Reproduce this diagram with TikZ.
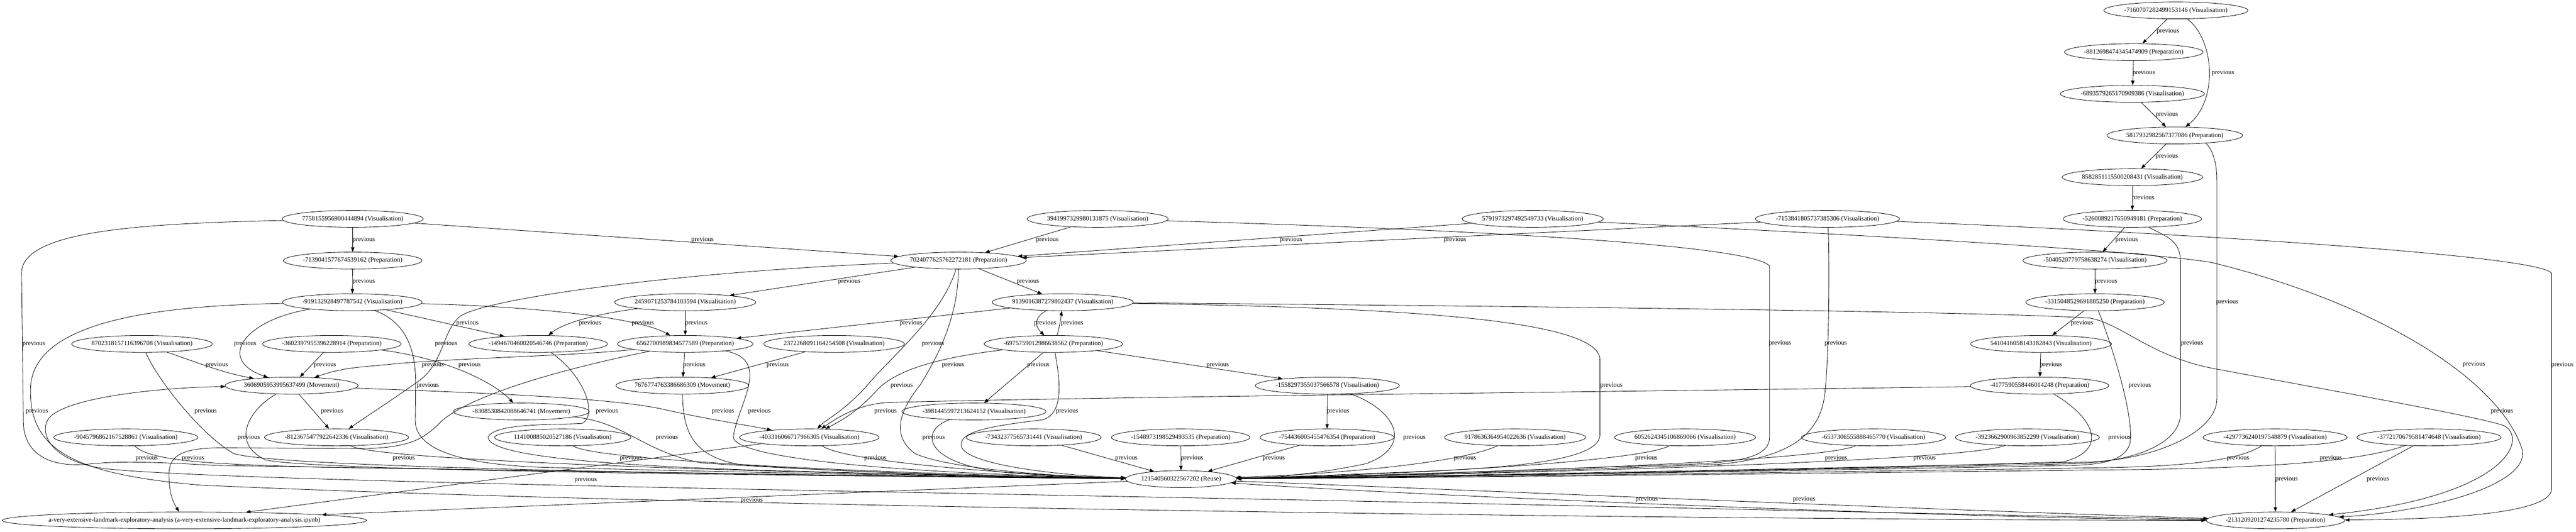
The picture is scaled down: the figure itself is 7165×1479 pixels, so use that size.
\documentclass[tikz,border=0pt]{standalone}
\usepackage{fontspec}
\setmainfont{Liberation Serif}
\usetikzlibrary{shapes.geometric,arrows.meta}
\newcommand{\nodefnt}{\fontsize{13.5pt}{16pt}\selectfont}
\begin{document}
\begin{tikzpicture}[x=0.75pt,y=-0.75pt,
  nd/.style={ellipse,draw,line width=0.9pt,inner xsep=-1.5pt,inner ysep=0pt,minimum height=35.25pt,font=\nodefnt},
  e/.style={draw,line width=0.9pt,-{Triangle[length=9.5pt,width=7pt]}},
  lb/.style={font=\nodefnt,inner sep=0pt}]
\useasboundingbox (0,0) rectangle (7165,1479);
% ---------------- nodes ----------------
\node[nd] (N1) at (6052,29) {-7160707282499153146 (Visualisation)};
\node[nd] (N2) at (5935,145) {-8812698474345474909 (Preparation)};
\node[nd] (N3) at (5931,261) {-6893579265170909386 (Visualisation)};
\node[nd] (N4) at (6049,377) {5817932982567377086 (Preparation)};
\node[nd] (N5) at (5931,493) {8582851115500208431 (Visualisation)};
\node[nd] (N6) at (5931,609) {-5260089217650949181 (Preparation)};
\node[nd] (N7) at (5083,609) {-7153841805737385306 (Visualisation)};
\node[nd] (N8) at (4263,609) {5791973297492549733 (Visualisation)};
\node[nd] (N9) at (3053,609) {3941997329980131875 (Visualisation)};
\node[nd] (N10) at (981,609) {7758155956900444894 (Visualisation)};
\node[nd] (N11) at (5827,725) {-5040520779758638274 (Visualisation)};
\node[nd] (N12) at (2666,725) {7024077625762272181 (Preparation)};
\node[nd] (N13) at (981,725) {-7139041577674539162 (Preparation)};
\node[nd] (N14) at (5827,841) {-3315048529691885250 (Preparation)};
\node[nd] (N15) at (2956,841) {9139016387279802437 (Visualisation)};
\node[nd] (N16) at (1906,841) {2459071253784103594 (Visualisation)};
\node[nd] (N17) at (980,841) {-919132928497787542 (Visualisation)};
\node[nd] (N18) at (5677,957) {5410416058143182843 (Visualisation)};
\node[nd] (N19) at (2930,957) {-6975759012986638562 (Preparation)};
\node[nd] (N20) at (2320,957) {2372268091164254508 (Visualisation)};
\node[nd] (N21) at (1906,957) {6562700989834577589 (Preparation)};
\node[nd] (N22) at (1497,957) {-1494670460020546746 (Preparation)};
\node[nd] (N23) at (923,957) {-3602397955396228914 (Preparation)};
\node[nd] (N24) at (395,957) {8702318157116396708 (Visualisation)};
\node[nd] (N25) at (5673,1073) {-4177590558446014248 (Preparation)};
\node[nd] (N26) at (3692,1073) {-1558297355037566578 (Visualisation)};
\node[nd] (N27) at (1898,1073) {7676774763386686309 (Movement)};
\node[nd] (N28) at (811,1073) {3606905953995637499 (Movement)};
\node[nd] (N29) at (2709,1145) {-3981445597213624152 (Visualisation)};
\node[nd] (N30) at (1450,1145) {-8308530842088646741 (Movement)};
\node[nd] (N31) at (350,1217) {-9045796862167528861 (Visualisation)};
\node[nd] (N32) at (936,1217) {-8123675477922642336 (Visualisation)};
\node[nd] (N33) at (1565,1217) {114100885020527186 (Visualisation)};
\node[nd] (N34) at (2251,1217) {-403316066717966305 (Visualisation)};
\node[nd] (N35) at (2875,1217) {-73432377565731441 (Visualisation)};
\node[nd] (N36) at (3284,1217) {-1548973198529493535 (Preparation)};
\node[nd] (N37) at (3691,1217) {-754436005455476354 (Preparation)};
\node[nd] (N38) at (4214,1217) {9178636364954022636 (Visualisation)};
\node[nd] (N39) at (4687,1217) {6052624345106869066 (Visualisation)};
\node[nd] (N40) at (5211,1217) {-6537306555888465770 (Visualisation)};
\node[nd] (N41) at (5639,1217) {-3923662900963852299 (Visualisation)};
\node[nd] (N42) at (6328,1217) {-4297736240197548879 (Visualisation)};
\node[nd] (N43) at (6756,1217) {-3772170679581474648 (Visualisation)};
\node[nd] (N44) at (3285,1333) {121540560322567202 (Reuse)};
\node[nd,inner xsep=-14.7pt] (N45) at (513,1448) {a-very-extensive-landmark-exploratory-analysis (a-very-extensive-landmark-exploratory-analysis.ipynb)};
\node[nd] (N46) at (6329,1448) {-2131209201274235780 (Preparation)};
% ---------------- edges: right chain ----------------
\draw[e] (N1) -- (N2);
\draw[e] (N2) -- (N3);
\draw[e] (N3) -- (N4);
\draw[e] (N1) .. controls (6160,110) and (6170,280) .. (N4);
\draw[e] (N4) -- (N5);
\draw[e] (N5) -- (N6);
\draw[e] (N6) -- (N11);
\draw[e] (N11) -- (N14);
\draw[e] (N14) -- (N18);
\draw[e] (N18) -- (N25);
% ---------------- edges into root from the right ----------------
\draw[e] (N4) .. controls (6140,400) and (6166,430) .. (6166,500) -- (6166,1110) .. controls (6166,1200) and (6000,1280) .. (5800,1286) .. controls (5000,1305) and (3800,1328) .. (N44);
\draw[e] (N6) .. controls (6030,660) and (6065,670) .. (6065,730) -- (6065,1150) .. controls (6065,1230) and (5950,1282) .. (5780,1290) .. controls (5000,1308) and (3800,1329) .. (N44);
\draw[e] (N14) .. controls (5870,950) and (5935,1150) .. (5925,1230) .. controls (5915,1280) and (5850,1293) .. (5760,1295) .. controls (5000,1310) and (3800,1329) .. (N44);
\draw[e] (N25) .. controls (5820,1160) and (5870,1250) .. (5740,1285) .. controls (5000,1310) and (3800,1329) .. (N44);
\draw[e] (N42) .. controls (6220,1285) and (6050,1300) .. (5800,1302) .. controls (5000,1315) and (3800,1330) .. (N44);
\draw[e] (N43) .. controls (6560,1285) and (6300,1305) .. (5800,1308) .. controls (5000,1318) and (3800,1331) .. (N44);
\draw[e] (N7) .. controls (5089,700) and (5088,1000) .. (5075,1100) .. controls (5060,1220) and (4960,1275) .. (4780,1292) .. controls (4300,1310) and (3800,1327) .. (N44);
\draw[e] (N9) .. controls (3800,630) and (4860,670) .. (4922,740) -- (4922,1215) .. controls (4922,1270) and (4850,1285) .. (4700,1292) .. controls (4200,1308) and (3800,1326) .. (N44);
\draw[e] (N39) .. controls (4560,1285) and (3900,1322) .. (N44);
\draw[e] (N40) .. controls (5060,1288) and (3900,1323) .. (N44);
\draw[e] (N41) .. controls (5440,1290) and (3900,1324) .. (N44);
\draw[e] (N38) .. controls (4060,1290) and (3700,1320) .. (N44);
\draw[e] (N15) .. controls (3800,855) and (4449,880) .. (4450,1000) -- (4450,1210) .. controls (4450,1275) and (4250,1300) .. (3950,1312) .. controls (3700,1322) and (3550,1328) .. (N44);
\draw[e] (N26) .. controls (3880,1140) and (3935,1240) .. (3800,1290) .. controls (3650,1322) and (3520,1330) .. (N44);
\draw[e] (N26) -- (N37);
\draw[e] (N37) -- (N44);
\draw[e] (N36) -- (N44);
\draw[e] (N35) -- (N44);
% ---------------- edges into -2131 ----------------
\draw[e] (N42) -- (N46);
\draw[e] (N43) -- (N46);
\draw[e] (N7) .. controls (5700,632) and (7050,700) .. (7097,760) -- (7097,1360) .. controls (7097,1430) and (6800,1445) .. (N46);
\draw[e] (N8) .. controls (4900,640) and (5900,690) .. (6150,730) .. controls (6600,840) and (6950,1050) .. (7015,1250) .. controls (7040,1350) and (6750,1425) .. (N46);
\draw[e] (N15) .. controls (4000,850) and (5500,865) .. (5812,885) .. controls (5900,900) and (5980,990) .. (6150,1024) .. controls (6500,1090) and (6900,1160) .. (6966,1185) .. controls (7030,1220) and (6980,1380) .. (N46);
\draw[e] (N44) .. controls (3800,1352) and (5400,1420) .. (N46);
\draw[e] (N46) .. controls (5400,1442) and (3800,1372) .. (N44);
\draw[e] (N17) .. controls (450,850) and (90,890) .. (85,1080) .. controls (80,1250) and (200,1320) .. (560,1350) .. controls (1500,1392) and (3000,1420) .. (4500,1437) .. controls (5500,1447) and (5950,1448) .. (N46);
\draw[e] (N46) .. controls (5500,1433) and (4500,1408) .. (3200,1383) .. controls (2000,1360) and (600,1335) .. (300,1305) .. controls (150,1288) and (105,1210) .. (135,1165) .. controls (180,1105) and (450,1078) .. (N28);
% ---------------- middle ----------------
\draw[e] (N19) -- (N26);
\draw[e] (N25) .. controls (4500,1090) and (3000,1105) .. (2470,1120) .. controls (2400,1124) and (2345,1150) .. (N34);
\draw[e] (N29) .. controls (2560,1195) and (2560,1290) .. (2800,1315) .. controls (2950,1326) and (3050,1330) .. (N44);
\draw[e] (N19) .. controls (2945,1040) and (2965,1150) .. (2900,1168) .. controls (2760,1185) and (2660,1200) .. (2675,1245) .. controls (2700,1300) and (3000,1326) .. (N44);
\draw[e] (N12) .. controls (2665,880) and (2610,990) .. (2560,1070) .. controls (2505,1140) and (2475,1210) .. (2545,1262) .. controls (2650,1310) and (3000,1328) .. (N44);
\draw[e] (N12) .. controls (2620,880) and (2470,1000) .. (2410,1075) .. controls (2340,1150) and (2300,1165) .. (N34);
\draw[e] (N19) .. controls (2650,990) and (2500,1020) .. (2440,1085) .. controls (2380,1150) and (2340,1170) .. (N34);
\draw[e] (N19) -- (N29);
\draw[e] (N28) .. controls (1300,1092) and (1700,1105) .. (1850,1140) .. controls (1960,1165) and (2060,1180) .. (N34);
\draw[e] (N34) .. controls (2360,1290) and (2900,1325) .. (N44);
\draw[e] (N34) -- (N45);
\draw[e] (N44) -- (N45);
\draw[e] (N21) .. controls (2150,1000) and (2050,1130) .. (2040,1215) .. controls (2035,1275) and (2500,1318) .. (N44);
\draw[e] (N27) .. controls (1900,1200) and (1925,1270) .. (2060,1293) .. controls (2400,1318) and (2900,1329) .. (N44);
\draw[e] (N30) .. controls (1740,1175) and (1785,1255) .. (1950,1288) .. controls (2400,1318) and (2900,1329) .. (N44);
\draw[e] (N33) .. controls (1650,1285) and (2600,1322) .. (N44);
\draw[e] (N22) .. controls (1620,1040) and (1665,1150) .. (1620,1178) .. controls (1560,1183) and (1380,1175) .. (1358,1215) .. controls (1350,1270) and (1700,1295) .. (2100,1308) .. controls (2600,1322) and (3000,1330) .. (N44);
\draw[e] (N32) .. controls (1060,1290) and (2600,1326) .. (N44);
\draw[e] (N17) .. controls (1140,900) and (1158,990) .. (1156,1080) -- (1155,1170) .. controls (1155,1240) and (1250,1290) .. (1500,1300) .. controls (2200,1318) and (2900,1330) .. (N44);
\draw[e] (N28) .. controls (690,1140) and (640,1235) .. (740,1280) .. controls (900,1315) and (2600,1326) .. (N44);
\draw[e] (N24) .. controls (440,1060) and (560,1210) .. (650,1262) .. controls (800,1310) and (2600,1326) .. (N44);
\draw[e] (N31) .. controls (420,1285) and (600,1292) .. (900,1300) .. controls (2000,1318) and (2800,1330) .. (N44);
\draw[e] (N10) .. controls (400,622) and (60,640) .. (60,760) -- (65,1180) .. controls (70,1265) and (140,1300) .. (240,1292) .. controls (330,1282) and (420,1285) .. (600,1295) .. controls (1500,1310) and (2800,1330) .. (N44);
% ---------------- left part ----------------
\draw[e] (N28) -- (N32);
\draw[e] (N12) .. controls (1900,755) and (1350,830) .. (1280,880) .. controls (1230,920) and (1235,1010) .. (1165,1060) .. controls (1080,1120) and (1010,1165) .. (N32);
\draw[e] (N21) .. controls (1500,1040) and (1300,1110) .. (1230,1170) .. controls (1185,1215) and (1150,1248) .. (1000,1248) -- (620,1246) .. controls (510,1246) and (470,1265) .. (470,1320) .. controls (470,1370) and (480,1395) .. (N45);
\draw[e] (N21) .. controls (1600,990) and (1300,995) .. (1100,1012) .. controls (1010,1022) and (960,1020) .. (N28);
\draw[e] (N23) .. controls (1230,995) and (1370,1060) .. (N30);
\draw[e] (N23) -- (N28);
\draw[e] (N24) .. controls (540,1005) and (610,1035) .. (N28);
\draw[e] (N17) .. controls (680,890) and (600,1000) .. (N28);
\draw[e] (N17) .. controls (1400,850) and (1760,875) .. (N21);
\draw[e] (N17) -- (N22);
\draw[e] (N13) -- (N17);
\draw[e] (N10) -- (N13);
\draw[e] (N10) -- (N12);
\draw[e] (N9) -- (N12);
\draw[e] (N8) -- (N12);
\draw[e] (N7) -- (N12);
\draw[e] (N12) -- (N16);
\draw[e] (N12) -- (N15);
\draw[e] (N15) .. controls (2880,880) and (2875,905) .. (N19);
\draw[e] (N19) .. controls (2945,920) and (2950,890) .. (N15);
\draw[e] (N15) -- (N21);
\draw[e] (N16) .. controls (1650,875) and (1565,900) .. (N22);
\draw[e] (N16) -- (N21);
\draw[e] (N20) -- (N27);
\draw[e] (N21) -- (N27);
% ---------------- labels ----------------
\foreach \px/\py [count=\i] in {6030/87,5963/203,6027/319,6183/203,6027/435,5961/551,5915/667,5858/783,5791/900,5705/1016,
  6195/840,6097/956,5952/1073,5895/1217,5106/956,4951/956,4482/1073,7127/1015,6881/1014,6959/1145,
  6360/1333,6614/1333,6225/1275,6483/1275,5353/1275,5107/1275,4579/1275,4580/1390,5018/1390,
  4075/1275,3934/1217,3722/1145,3543/1275,3316/1275,3133/1275,3387/1015,2913/667,3591/667,4047/667,1954/667,
  2362/783,2859/783,2907/899,2982/899,2534/899,1641/899,1937/899,1788/899,1300/899,
  2595/957,2651/1015,2508/1073,2888/1015,2968/1145,1931/1015,2163/1015,2112/1145,2011/1145,2463/1145,
  2597/1217,2435/1275,1855/1217,1755/1275,1629/1335,2091/1392,1688/1145,
  1012/667,1012/783,94/957,682/957,1190/1073,1241/957,603/1015,904/1015,1204/1015,1306/1015,
  924/1145,692/1217,572/1145,103/1145,408/1275,537/1275,1123/1275}
  \node[lb] (lab\i) at (\px,\py) {previous};
\end{tikzpicture}
\end{document}
